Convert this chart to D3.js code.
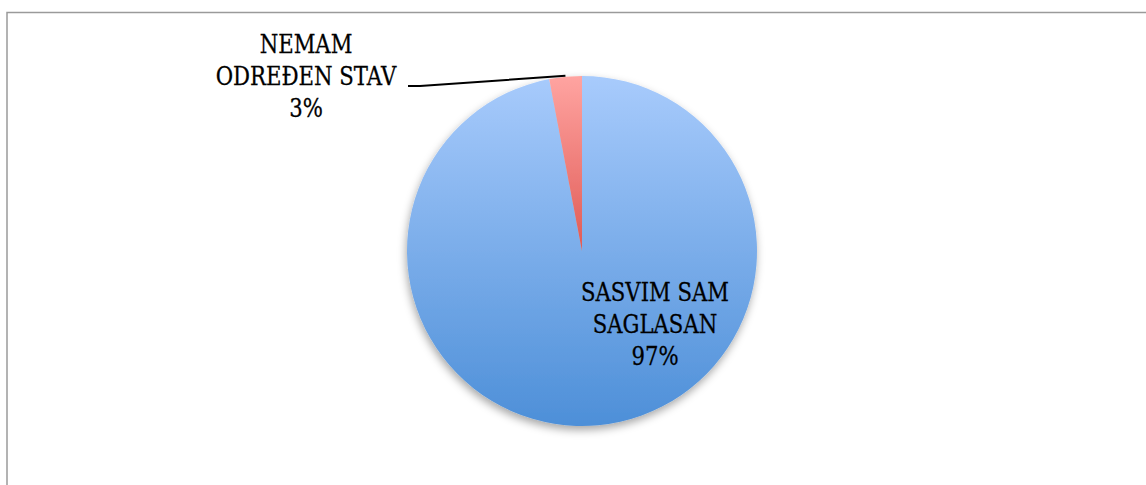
<!DOCTYPE html>
<html>
<head>
<meta charset="utf-8">
<script src="https://cdn.jsdelivr.net/npm/d3@7"></script>
<style>
  body { margin: 0; background: #fff; }
</style>
</head>
<body>
<script>
// chart data
let categories = ['SASVIM SAM SAGLASAN', 'NEMAM ODREĐEN STAV']
let values = [97, 3]
let labelLines = [['SASVIM SAM', 'SAGLASAN', '97%'], ['NEMAM', 'ODREĐEN STAV', '3%']]

let m = {
  width: 1146,
  height: 485,
  cx: 582,
  cy: 251,
  r: 175,
}

let svg = d3.select('body')
  .append('svg')
  .attr('width', m.width)
  .attr('height', m.height)

let defs = svg.append('defs')

// one gradient per slice, light at top, darker at bottom
let gradColors = [['#a8cbfc', '#4d8fd8'], ['#ffa4a1', '#e05a55']]
gradColors.forEach(function(c, i) {
  let g = defs.append('linearGradient')
    .attr('id', 'grad' + i)
    .attr('x1', 0).attr('y1', 0).attr('x2', 0).attr('y2', 1)
  g.append('stop').attr('offset', '0%').attr('stop-color', c[0])
  g.append('stop').attr('offset', '100%').attr('stop-color', c[1])
})

let shadow = defs.append('filter')
  .attr('id', 'shadow')
  .attr('x', '-10%').attr('y', '-10%').attr('width', '120%').attr('height', '125%')
shadow.append('feDropShadow')
  .attr('dx', -1).attr('dy', 4)
  .attr('stdDeviation', 4)
  .attr('flood-color', '#000')
  .attr('flood-opacity', 0.35)

// frame around the chart area
svg.append('rect')
  .attr('x', 7).attr('y', 12.5)
  .attr('width', m.width + 10).attr('height', m.height)
  .attr('fill', 'none')
  .attr('stroke', '#9a9a9a')
  .attr('stroke-width', 1.5)

let pie = d3.pie().sort(null)
let arcs = pie(values)
let arc = d3.arc().innerRadius(0).outerRadius(m.r)

let g = svg.append('g')
  .attr('transform', 'translate(' + m.cx + ',' + m.cy + ')')

g.append('g')
  .attr('filter', 'url(#shadow)')
  .selectAll('path')
  .data(arcs)
  .enter()
  .append('path')
    .attr('d', arc)
    .attr('fill', function(d, i) { return 'url(#grad' + i + ')' })

// labels (positions picked to match the original layout)
let labelPos = [[655, 301], [306, 53]]
let lineH = 32

labelLines.forEach(function(lines, i) {
  let t = svg.append('text')
    .attr('text-anchor', 'middle')
    .attr('font-family', 'DejaVu Serif, Liberation Serif, serif')
    .attr('font-size', 26)
    .attr('fill', '#000')
    .attr('stroke', '#000')
    .attr('stroke-width', 0.3)
  lines.forEach(function(l, j) {
    let ts = t.append('tspan')
      .attr('x', labelPos[i][0])
      .attr('y', labelPos[i][1] + j * lineH)
      .text(l)
    // original font is narrower, squeeze a bit
    let w = ts.node().getComputedTextLength()
    ts.attr('textLength', w * 0.815).attr('lengthAdjust', 'spacingAndGlyphs')
  })
})

// leader line for the small slice
let mid = (arcs[1].startAngle + arcs[1].endAngle) / 2
let edge = [m.cx + Math.sin(mid) * (m.r + 1), m.cy - Math.cos(mid) * (m.r + 1)]
svg.append('path')
  .attr('d', d3.line()([[408, 86], [420, 86], edge]))
  .attr('fill', 'none')
  .attr('stroke', '#000')
  .attr('stroke-width', 2)
</script>
</body>
</html>
